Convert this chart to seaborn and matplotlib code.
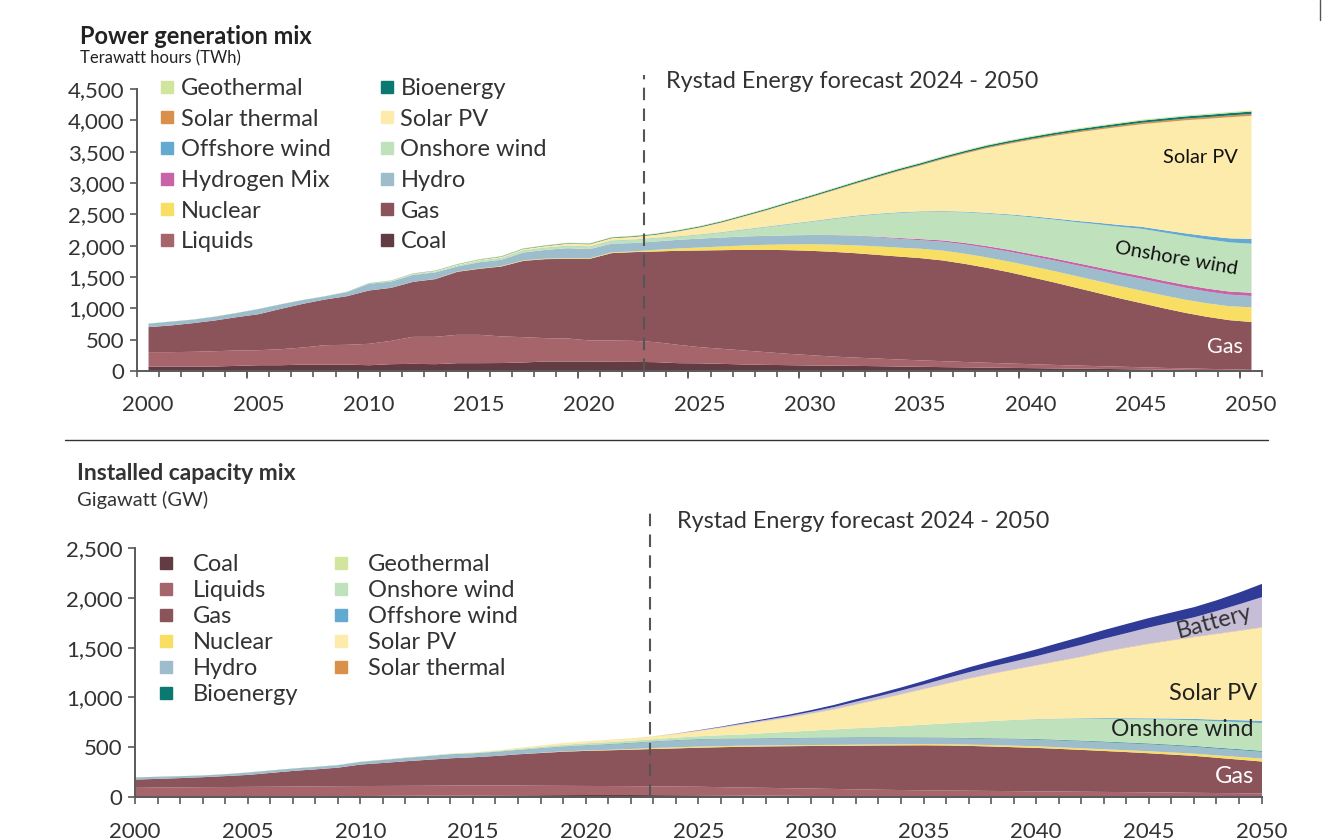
import pandas as pd
import matplotlib
matplotlib.use('Agg')
import matplotlib.pyplot as plt
import seaborn as sns
from matplotlib.lines import Line2D
from matplotlib.ticker import FuncFormatter

years = list(range(2000, 2051))

# Power generation mix, TWh (2000..2050)
gen_coal = [80, 80, 80, 80, 90, 100, 100, 110, 110, 110,
            100, 117, 122, 117, 133, 133, 135, 144, 160, 160,
            160, 155, 154, 149, 133, 130, 122, 112, 106, 101,
            96, 93, 90, 85, 80, 75, 70, 66, 62, 58,
            54, 50, 46, 42, 38, 34, 30, 26, 22, 18, 15]
gen_liquids = [229, 229, 234, 244, 245, 240, 256, 273, 310, 316,
               342, 372, 431, 436, 452, 452, 425, 404, 372, 367,
               335, 340, 335, 319, 293, 258, 240, 223, 203, 181,
               165, 146, 133, 122, 112, 103, 95, 86, 78, 70,
               63, 56, 50, 44, 39, 34, 28, 24, 20, 17, 12]
gen_gas = [399, 425, 457, 490, 532, 575, 644, 697, 729, 776,
           851, 846, 878, 921, 1006, 1054, 1116, 1218, 1261, 1271,
           1303, 1394, 1416, 1447, 1500, 1543, 1574, 1607, 1633, 1654,
           1665, 1671, 1666, 1655, 1643, 1631, 1607, 1566, 1515, 1457,
           1389, 1320, 1245, 1170, 1093, 1023, 953, 886, 830, 784, 763]
gen_nuclear = [0, 0, 0, 0, 0, 0, 0, 0, 0, 0,
               0, 0, 0, 3, 5, 5, 7, 8, 8, 10,
               10, 12, 12, 27, 37, 48, 59, 69, 80, 92,
               104, 115, 125, 135, 142, 150, 157, 162, 166, 170,
               175, 181, 186, 191, 196, 200, 205, 210, 215, 222, 235]
gen_hydro = [53, 59, 54, 58, 64, 80, 69, 58, 48, 64,
             106, 101, 110, 105, 80, 100, 100, 125, 140, 160,
             145, 140, 133, 133, 138, 142, 144, 144, 143, 145,
             148, 150, 150, 145, 140, 136, 142, 148, 153, 158,
             163, 168, 174, 180, 185, 190, 190, 190, 188, 185, 180]
gen_hydrogen = [0, 0, 0, 0, 0, 0, 0, 0, 0, 0,
                0, 0, 0, 0, 0, 0, 0, 0, 0, 0,
                0, 0, 0, 0, 0, 0, 0, 0, 0, 0,
                0, 3, 6, 10, 14, 18, 21, 24, 27, 30,
                32, 34, 36, 38, 40, 42, 44, 46, 48, 50, 52]
gen_onshore = [0, 0, 0, 0, 0, 0, 0, 0, 0, 3,
               5, 8, 12, 15, 20, 25, 30, 33, 35, 38,
               40, 45, 51, 53, 50, 60, 79, 106, 139, 173,
               210, 255, 305, 355, 400, 432, 458, 488, 520, 552,
               587, 617, 649, 685, 720, 755, 770, 780, 785, 785, 782]
gen_offshore = [0, 0, 0, 0, 0, 0, 0, 0, 0, 0,
                0, 0, 0, 0, 0, 2, 2, 3, 3, 4,
                4, 5, 5, 6, 6, 7, 7, 8, 8, 9,
                9, 10, 10, 10, 10, 10, 10, 11, 11, 13,
                16, 18, 21, 25, 28, 32, 37, 43, 52, 64, 78]
gen_solar_pv = [0, 0, 0, 0, 0, 0, 0, 0, 0, 0,
                2, 4, 6, 8, 10, 12, 15, 18, 22, 28,
                32, 36, 40, 47, 77, 110, 153, 205, 258, 321,
                380, 440, 505, 578, 655, 733, 827, 927, 1031, 1125,
                1217, 1311, 1402, 1482, 1563, 1635, 1720, 1804, 1872, 1933, 1963]
gen_solar_thermal = [0, 0, 0, 0, 0, 0, 0, 0, 0, 0,
                     0, 0, 0, 0, 0, 0, 1, 2, 2, 3,
                     3, 3, 4, 4, 5, 5, 6, 6, 7, 7,
                     8, 9, 10, 11, 12, 13, 14, 15, 16, 17,
                     18, 19, 20, 21, 22, 24, 25, 26, 27, 28, 30]
gen_bio = [2, 2, 2, 2, 2, 2, 2, 2, 2, 2,
           3, 3, 4, 4, 5, 5, 6, 6, 7, 7,
           8, 9, 10, 11, 12, 13, 14, 15, 16, 17,
           18, 19, 20, 21, 22, 23, 24, 25, 26, 27,
           28, 29, 30, 31, 32, 33, 34, 35, 36, 37, 38]
gen_geo = [3, 3, 3, 3, 3, 3, 3, 3, 3, 3,
           3, 3, 4, 4, 5, 5, 6, 6, 6, 7,
           7, 7, 8, 8, 8, 9, 9, 9, 10, 10,
           10, 11, 11, 11, 12, 12, 12, 13, 13, 13,
           14, 14, 14, 15, 15, 15, 16, 16, 17, 17, 18]

# Installed capacity mix, GW (2000..2050)
cap_coal = [8, 8, 9, 9, 10, 10, 11, 12, 13, 14,
            15, 16, 17, 18, 19, 20, 21, 22, 23, 24,
            25, 25, 25, 24, 23, 22, 21, 20, 18, 17,
            15, 14, 13, 12, 11, 10, 10, 9, 9, 8,
            8, 7, 7, 6, 6, 5, 5, 4, 4, 3, 3]
cap_liquids = [89, 92, 93, 95, 95, 97, 97, 98, 99, 100,
               100, 100, 100, 100, 101, 101, 101, 98, 95, 93,
               91, 90, 89, 88, 87, 86, 83, 80, 79, 76,
               75, 72, 69, 66, 64, 62, 60, 59, 57, 56,
               54, 53, 51, 50, 48, 47, 45, 43, 41, 40, 37]
cap_gas = [83, 87, 93, 100, 110, 120, 139, 157, 171, 186,
           216, 231, 247, 261, 274, 283, 295, 314, 329, 343,
           352, 359, 366, 375, 383, 392, 401, 410, 416, 422,
           427, 432, 438, 444, 448, 452, 452, 450, 446, 441,
           436, 428, 420, 411, 402, 392, 381, 371, 354, 337, 321]
cap_nuclear = [0, 0, 0, 0, 0, 0, 0, 0, 0, 0,
               0, 0, 0, 0, 0, 0, 0, 0, 2, 3,
               4, 5, 7, 10, 11, 11, 11, 10, 10, 10,
               10, 10, 11, 11, 12, 13, 13, 13, 14, 15,
               16, 16, 16, 17, 18, 20, 21, 22, 24, 27, 30]
cap_hydro = [20, 20, 18, 16, 18, 23, 23, 23, 23, 24,
             26, 29, 33, 36, 40, 37, 40, 42, 45, 48,
             52, 55, 60, 65, 70, 73, 72, 70, 70, 70,
             70, 70, 70, 68, 65, 62, 62, 63, 65, 67,
             68, 70, 72, 72, 72, 72, 72, 70, 70, 70, 70]
cap_bio = [1, 1, 1, 1, 1, 1, 1, 1, 1, 1,
           1, 1, 1, 1, 1, 2, 2, 2, 2, 2,
           2, 3, 3, 3, 3, 3, 3, 3, 3, 3,
           4, 4, 4, 4, 4, 4, 4, 4, 4, 4,
           5, 5, 5, 6, 6, 6, 6, 7, 7, 7, 7]
cap_geo = [1, 1, 1, 1, 1, 1, 1, 1, 1, 1,
           1, 1, 1, 1, 1, 1, 1, 1, 1, 1,
           1, 1, 1, 1, 1, 1, 1, 1, 1, 1,
           1, 1, 1, 1, 1, 1, 1, 1, 1, 1,
           1, 1, 1, 1, 1, 1, 1, 1, 1, 1, 1]
cap_onshore = [0, 0, 0, 0, 0, 0, 0, 0, 1, 1,
               1, 2, 2, 3, 4, 5, 7, 9, 12, 15,
               17, 18, 19, 20, 23, 27, 33, 40, 50, 60,
               70, 80, 90, 100, 113, 127, 142, 157, 172, 186,
               198, 208, 217, 226, 234, 242, 250, 258, 265, 272, 278]
cap_offshore = [0, 0, 0, 0, 0, 0, 0, 0, 0, 0,
                0, 0, 0, 0, 0, 0, 0, 0, 0, 0,
                0, 0, 0, 0, 0, 0, 0, 0, 0, 0,
                0, 0, 0, 0, 0, 0, 0, 0, 0, 1,
                2, 4, 6, 8, 9, 10, 12, 13, 16, 19, 23]
cap_solar_pv = [0, 0, 0, 0, 0, 0, 0, 0, 0, 0,
                0, 0, 0, 1, 2, 4, 6, 10, 15, 18,
                20, 20, 22, 27, 38, 53, 75, 100, 120, 143,
                170, 201, 238, 277, 318, 358, 398, 438, 473, 505,
                539, 578, 618, 665, 708, 748, 785, 822, 860, 898, 937]
cap_solar_thermal = [0, 0, 0, 0, 0, 0, 0, 0, 0, 0,
                     0, 0, 0, 0, 0, 0, 0, 0, 0, 0,
                     0, 1, 1, 1, 1, 1, 1, 1, 1, 1,
                     1, 2, 2, 2, 2, 2, 2, 2, 2, 2,
                     2, 3, 3, 3, 3, 3, 3, 3, 3, 3, 3]
cap_battery = [0, 0, 0, 0, 0, 0, 0, 0, 0, 0,
               0, 0, 0, 0, 0, 0, 0, 0, 0, 0,
               0, 0, 0, 0, 2, 4, 6, 9, 12, 15,
               18, 22, 27, 32, 37, 44, 54, 62, 71, 80,
               90, 104, 118, 130, 144, 162, 178, 196, 228, 264, 302]
cap_storage = [0, 0, 0, 0, 0, 0, 0, 0, 0, 0,
               0, 0, 0, 0, 0, 0, 0, 0, 0, 0,
               0, 0, 0, 0, 1, 3, 5, 8, 11, 14,
               17, 21, 25, 28, 31, 36, 42, 49, 55, 62,
               69, 76, 82, 87, 92, 95, 99, 102, 108, 118, 133]

colors = {
    'Coal': '#633b43', 'Liquids': '#a6646b', 'Gas': '#8b535a',
    'Nuclear': '#f8de62', 'Hydro': '#9dbdcc', 'Hydrogen Mix': '#c963a8',
    'Onshore wind': '#bfe1bc', 'Offshore wind': '#63a9d0',
    'Solar PV': '#fcebaa', 'Solar thermal': '#d9904a',
    'Bioenergy': '#0a7a70', 'Geothermal': '#d1e69c',
    'Battery': '#c5bed6', 'Storage': '#2f3b97',
}

gen = pd.DataFrame({
    'Coal': gen_coal, 'Liquids': gen_liquids, 'Gas': gen_gas,
    'Nuclear': gen_nuclear, 'Hydro': gen_hydro, 'Hydrogen Mix': gen_hydrogen,
    'Onshore wind': gen_onshore, 'Offshore wind': gen_offshore,
    'Solar PV': gen_solar_pv, 'Solar thermal': gen_solar_thermal,
    'Bioenergy': gen_bio, 'Geothermal': gen_geo}, index=years)
cap = pd.DataFrame({
    'Coal': cap_coal, 'Liquids': cap_liquids, 'Gas': cap_gas,
    'Nuclear': cap_nuclear, 'Hydro': cap_hydro, 'Bioenergy': cap_bio,
    'Geothermal': cap_geo, 'Onshore wind': cap_onshore,
    'Offshore wind': cap_offshore, 'Solar PV': cap_solar_pv,
    'Solar thermal': cap_solar_thermal, 'Battery': cap_battery,
    'Storage': cap_storage}, index=years)

sns.set_theme(style='white')
plt.rcParams['font.family'] = ['Lato', 'DejaVu Sans']
txt = '#333333'
spine = '#5a5a5a'

fig = plt.figure(figsize=(13.32, 8.4), dpi=100)
W, H = 1332, 840


def px_axes(l, t, r, b):
    return fig.add_axes([l / W, 1 - b / H, (r - l) / W, (b - t) / H])


ax1 = px_axes(137, 89, 1262, 371)
ax2 = px_axes(135, 548, 1261.5, 797)

ax1.stackplot(gen.index, gen.T.values, colors=[colors[c] for c in gen.columns], linewidth=0)
ax2.stackplot(cap.index, cap.T.values, colors=[colors[c] for c in cap.columns], linewidth=0)

ax1.set_xlim(1999.5, 2050.5)
ax1.set_ylim(0, 4500)
ax2.set_xlim(2000, 2050)
ax2.set_ylim(0, 2500)
ax1.set_yticks(range(0, 4501, 500))
ax2.set_yticks(range(0, 2501, 500))

fmt = FuncFormatter(lambda v, p: f'{int(v):,}')
for ax in (ax1, ax2):
    sns.despine(ax=ax)
    ax.yaxis.set_major_formatter(fmt)
    for s in ('left', 'bottom'):
        ax.spines[s].set_color(spine)
        ax.spines[s].set_linewidth(1.4)
    ax.tick_params(axis='y', which='major', length=5, width=1.2, color=spine,
                   labelsize=16, labelcolor=txt, pad=4, left=True)
    ax.tick_params(axis='x', labelsize=16, labelcolor=txt)
    ax.grid(False)

# top: category style ticks between years, labels on the years
ax1.set_xticks(range(2000, 2051, 5))
ax1.set_xticks([y + 0.5 for y in range(1999, 2051)], minor=True)
ax1.tick_params(axis='x', which='major', length=0, pad=17)
ax1.tick_params(axis='x', which='minor', length=4, width=1.2, color=spine, bottom=True)
for y in range(2004, 2050, 5):
    ax1.plot([y + 0.5, y + 0.5], [0, -0.025], transform=ax1.get_xaxis_transform(),
             color=spine, lw=1.2, clip_on=False)

ax2.set_xticks(range(2000, 2051, 5))
ax2.set_xticks(range(2000, 2051), minor=True)
ax2.tick_params(axis='x', which='major', length=5, width=1.2, color=spine, pad=13, bottom=True)
ax2.tick_params(axis='x', which='minor', length=5, width=1.2, color=spine, bottom=True)

# forecast markers
ax1.plot([2022.5, 2022.5], [0, 1.05], transform=ax1.get_xaxis_transform(),
         color='#555555', lw=1.5, ls=(0, (6, 4)), clip_on=False)
ax2.plot([2022.85, 2022.85], [0, 1.155], transform=ax2.get_xaxis_transform(),
         color='#555555', lw=1.5, ls=(0, (6, 4)), clip_on=False)
fig.text(666 / W, 1 - 81 / H, 'Rystad Energy forecast 2024 - 2050', fontsize=16.8,
         color=txt, va='center', ha='left')
fig.text(677 / W, 1 - 522 / H, 'Rystad Energy forecast 2024 - 2050', fontsize=16.8,
         color=txt, va='center', ha='left')

# titles
fig.text(80 / W, 1 - 37 / H, 'Power generation mix', fontsize=17, fontweight='bold',
         color='#222222', va='center')
fig.text(80 / W, 1 - 58 / H, 'Terawatt hours (TWh)', fontsize=12, color='#222222', va='center')
fig.text(77 / W, 1 - 474 / H, 'Installed capacity mix', fontsize=16.5, fontweight='bold',
         color='#333333', va='center')
fig.text(77 / W, 1 - 500 / H, 'Gigawatt (GW)', fontsize=14.5, color='#333333', va='center')

# in-chart labels
ax1.text(2047.7, 3400, 'Solar PV', fontsize=14.4, color='#111111', ha='center', va='center')
ax1.text(2046.6, 1800, 'Onshore wind', fontsize=14.4, color='#111111', ha='center',
         va='center', rotation=-10)
ax1.text(2048.8, 385, 'Gas', fontsize=15.5, color='white', ha='center', va='center')
ax2.text(2047.9, 1757, 'Battery', fontsize=17, color='#333333', ha='center', va='center',
         rotation=15)
ax2.text(2047.85, 1044, 'Solar PV', fontsize=17, color='#222222', ha='center', va='center')
ax2.text(2046.5, 673, 'Onshore wind', fontsize=16.5, color='#222222', ha='center', va='center')
ax2.text(2048.8, 201, 'Gas', fontsize=17, color='white', ha='center', va='center')


def handle(name):
    return Line2D([0], [0], marker='s', ls='', color=colors[name], markersize=9)


order1 = ['Geothermal', 'Solar thermal', 'Offshore wind', 'Hydrogen Mix', 'Nuclear', 'Liquids',
          'Bioenergy', 'Solar PV', 'Onshore wind', 'Hydro', 'Gas', 'Coal']
leg1 = ax1.legend([handle(n) for n in order1], order1, ncol=2, loc='upper left',
                  bbox_to_anchor=(0.0183, 1.039), frameon=False, fontsize=17,
                  handlelength=0.8, handletextpad=0.19, labelspacing=0.41,
                  columnspacing=1.96, borderpad=0, borderaxespad=0)
for t in leg1.get_texts():
    t.set_color(txt)

order2 = ['Coal', 'Liquids', 'Gas', 'Nuclear', 'Hydro', 'Bioenergy',
          'Geothermal', 'Onshore wind', 'Offshore wind', 'Solar PV', 'Solar thermal']
leg2 = ax2.legend([handle(n) for n in order2], order2, ncol=2, loc='upper left',
                  bbox_to_anchor=(0.0195, 0.975), frameon=False, fontsize=17,
                  handlelength=0.8, handletextpad=0.74, labelspacing=0.21,
                  columnspacing=1.4, borderpad=0, borderaxespad=0)
for t in leg2.get_texts():
    t.set_color(txt)

# separator and frame corner
fig.add_artist(Line2D([65 / W, 1268 / W], [1 - 440 / H, 1 - 440 / H], color='#333333', lw=1))
fig.add_artist(Line2D([1320 / W, 1320 / W], [1, 1 - 20 / H], color='#555555', lw=1))

fig.savefig('out.png', dpi=100, facecolor='white')
